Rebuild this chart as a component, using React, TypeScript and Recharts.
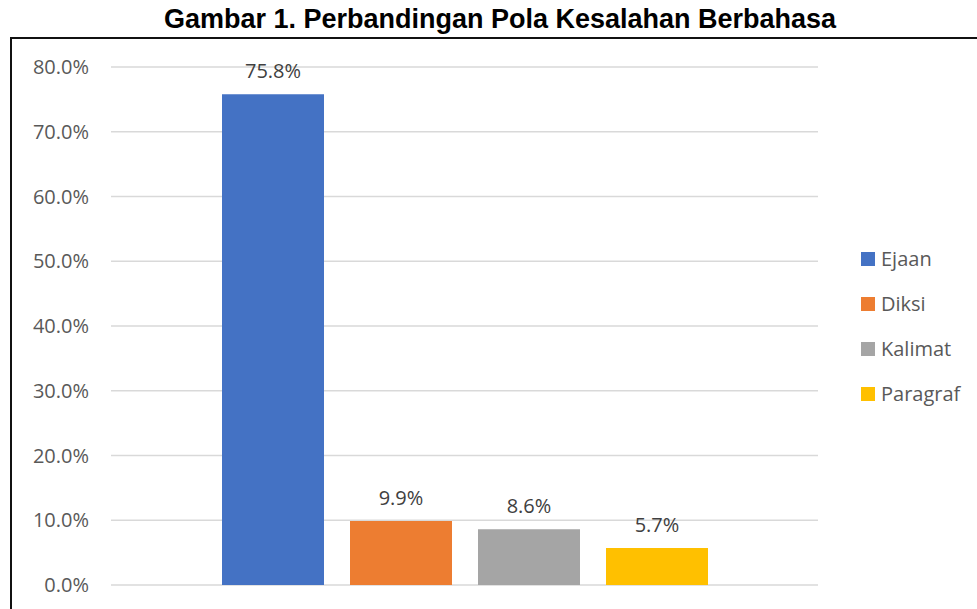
import React from 'react';
import { BarChart, Bar, XAxis, YAxis, CartesianGrid, Legend, LabelList } from 'recharts';

const categories = ['Pola Kesalahan'];
const seriesNames = ['Ejaan', 'Diksi', 'Kalimat', 'Paragraf'];
const seriesValues = [0.758, 0.099, 0.086, 0.057];
const seriesColors = ['#4472C4', '#ED7D31', '#A5A5A5', '#FFC000'];
const yTicks = [0, 0.1, 0.2, 0.3, 0.4, 0.5, 0.6, 0.7, 0.8];
const title = 'Gambar 1. Perbandingan Pola Kesalahan Berbahasa';

const data = categories.map((c) => {
  const row: Record<string, any> = { category: c };
  seriesNames.forEach((n, i) => { row[n] = seriesValues[i]; });
  return row;
});

const pct = (v: any) => `${(Number(v) * 100).toFixed(1)}%`;

const LegendContent = (props: any) => {
  const payload = [...(props.payload || [])].sort(
    (a: any, b: any) => seriesNames.indexOf(a.value) - seriesNames.indexOf(b.value)
  );
  return (
    <div style={{ fontFamily: '"Open Sans", sans-serif', fontSize: 20, color: '#595959' }}>
      {payload.map((p: any) => (
        <div key={p.value} style={{ height: 45, display: 'flex', alignItems: 'center' }}>
          <span style={{ display: 'inline-block', width: 14, height: 14, background: p.color, marginRight: 6 }} />
          <span>{p.value}</span>
        </div>
      ))}
    </div>
  );
};

export default function App() {
  return (
    <div style={{ position: 'absolute', left: 0, top: 0, width: 977, height: 609, overflow: 'hidden', background: '#fff' }}>
      <div style={{ position: 'absolute', left: 0, top: 4, width: 1000, textAlign: 'center', fontFamily: '"Liberation Sans", Arial, sans-serif', fontWeight: 'bold', fontSize: 27, lineHeight: '30px', color: '#000' }}>
        {title}
      </div>
      <div style={{ position: 'absolute', left: 10, top: 37, width: 1000, height: 700, borderLeft: '2px solid #111', borderTop: '2px solid #111' }} />
      <div style={{ position: 'absolute', left: 0, top: 0 }}>
        <BarChart
          width={977}
          height={609}
          data={data}
          margin={{ top: 67, right: 159, bottom: 24, left: 0 }}
          barSize={102}
          barGap={26}
        >
          <CartesianGrid horizontal vertical={false} stroke="#D9D9D9" strokeWidth={1.5} />
          <XAxis dataKey="category" hide />
          <YAxis
            domain={[0, 0.8]}
            ticks={yTicks}
            tickFormatter={pct}
            width={111}
            axisLine={false}
            tickLine={false}
            tickSize={0}
            tickMargin={22}
            interval={0}
            tick={{ fill: '#595959', fontSize: 20, fontFamily: '"Open Sans", sans-serif' }}
          />
          <Legend
            layout="vertical"
            align="center"
            verticalAlign="middle"
            content={<LegendContent />}
            wrapperStyle={{ position: 'absolute', left: 861, top: 236, width: 116 }}
          />
          {seriesNames.map((n, i) => (
            <Bar key={n} dataKey={n} name={n} fill={seriesColors[i]} isAnimationActive={false}>
              <LabelList
                dataKey={n}
                position="top"
                offset={16}
                formatter={pct}
                fill="#404040"
                fontSize={20}
                fontFamily='"Open Sans", sans-serif'
              />
            </Bar>
          ))}
        </BarChart>
      </div>
    </div>
  );
}
